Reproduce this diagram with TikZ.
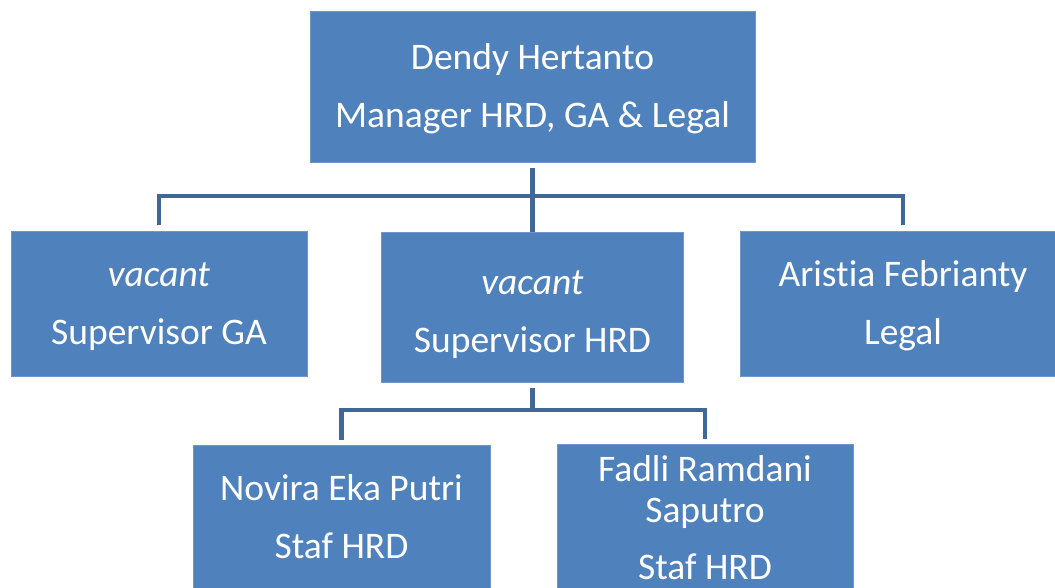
\documentclass[tikz,border=0pt]{standalone}
\usepackage{fontspec}
\setmainfont[Ligatures={NoCommon}]{Carlito}
\definecolor{boxfill}{HTML}{4F81BD}
\definecolor{boxline}{HTML}{7096C9}
\definecolor{connc}{HTML}{3F6797}
\tikzset{
  orgbox/.style={draw=boxline, line width=0.8pt, fill=boxfill, text=white, align=center,
    inner sep=0pt, font=\fontsize{37.5}{58}\selectfont},
  conn/.style={draw=connc, line width=4.5pt},
}
\begin{document}
\begin{tikzpicture}[x=1pt,y=1pt]
\useasboundingbox (0,0) rectangle (1055,-588);
\clip (0,0) rectangle (1055,-588);
\node[orgbox, minimum width=445pt, minimum height=151pt] (top) at (532.5,-86.5)
  {\strut Dendy Hertanto\\\strut Manager HRD, GA \& Legal};
\node[orgbox, minimum width=296pt, minimum height=145pt] (ga) at (159,-303.5)
  {\strut\textit{vacant}\\\strut Supervisor GA};
\node[orgbox, minimum width=302pt, minimum height=150pt] (mid) at (532.5,-307)
  {\rule{0pt}{50pt}\textit{vacant}\\\strut Supervisor HRD};
\node[orgbox, minimum width=326pt, minimum height=145pt] (legal) at (903,-303.5)
  {\strut Aristia Febrianty\\\strut Legal};
\node[orgbox, minimum width=297pt, minimum height=146pt] (nov) at (341.5,-518)
  {\strut Novira Eka Putri\\\strut Staf HRD};
\node[orgbox, minimum width=296pt, minimum height=146pt, font=\fontsize{37.5}{41}\selectfont] (fad) at (705,-518)
  {\rule{0pt}{36.7pt}Fadli Ramdani\\\strut Saputro\\[16pt]\strut Staf HRD};
\coordinate (j1) at (532.5,-196);
\coordinate (j2) at (532.5,-410);
\draw[conn, shorten <=6pt] (top.south) -- (mid.north);
\draw[conn, shorten <=6pt, shorten >=6pt] (ga.north) |- (j1) -| (legal.north);
\draw[conn, shorten <=6pt] (mid.south) -- (j2);
\draw[conn, shorten <=5pt, shorten >=5pt] (nov.north) |- (j2) -| (fad.north);
\end{tikzpicture}
\end{document}
